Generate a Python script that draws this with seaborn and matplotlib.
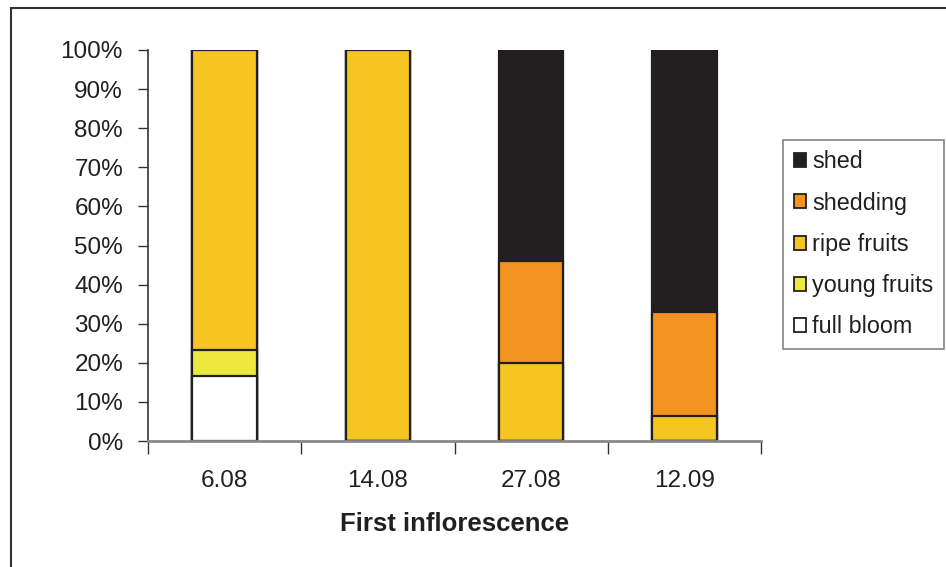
import numpy as np
import pandas as pd
import matplotlib
matplotlib.use("Agg")
import matplotlib.pyplot as plt
from matplotlib.patches import Rectangle, Patch
from matplotlib.ticker import PercentFormatter, FixedLocator
import seaborn as sns

# Sampling dates and share of each development stage (%)
dates = ["6.08", "14.08", "27.08", "12.09"]
full_bloom = [16.7, 0.0, 0.0, 0.0]
young_fruits = [6.6, 0.0, 0.0, 0.0]
ripe_fruits = [76.7, 100.0, 20.0, 6.5]
shedding = [0.0, 0.0, 26.0, 26.5]
shed = [0.0, 0.0, 54.0, 67.0]

stages = ["full bloom", "young fruits", "ripe fruits", "shedding", "shed"]
values = [full_bloom, young_fruits, ripe_fruits, shedding, shed]
colors = ["#FFFFFF", "#EDE840", "#F5C521", "#F39420", "#231F20"]

sns.set_theme(style="white")
plt.rcParams["font.family"] = ["Liberation Sans", "DejaVu Sans"]

fig = plt.figure(figsize=(9.46, 5.67), dpi=100)
ax = fig.add_axes([148 / 946, 1 - 441 / 567, (761 - 148) / 946, (441 - 50) / 567])

# stacked bars: draw cumulative totals from the top segment down
cum = np.cumsum(np.array(values), axis=0)
for i in range(len(stages) - 1, -1, -1):
    df = pd.DataFrame({"date": dates, "value": cum[i]})
    sns.barplot(data=df, x="date", y="value", color=colors[i], saturation=1,
                width=0.42, edgecolor="#231F20", linewidth=1.6, ax=ax, zorder=2)

ax.set_xlim(-0.5, 3.5)
ax.set_ylim(0, 100)
ax.yaxis.set_major_locator(FixedLocator(np.arange(0, 101, 10)))
ax.yaxis.set_major_formatter(PercentFormatter(decimals=0))
ax.xaxis.set_minor_locator(FixedLocator([-0.5, 0.5, 1.5, 2.5, 3.5]))

ax.tick_params(axis="y", which="major", direction="out", length=7, width=1,
               color="#333333", pad=11, labelsize=17.5, labelcolor="#231F20", left=True)
ax.tick_params(axis="x", which="major", length=0, pad=21, labelsize=17.5,
               labelcolor="#231F20")
ax.tick_params(axis="x", which="minor", direction="out", length=9, width=1,
               color="#333333", bottom=True)

for side in ["top", "right"]:
    ax.spines[side].set_visible(False)
ax.spines["left"].set_color("#333333")
ax.spines["left"].set_linewidth(1.2)
ax.spines["bottom"].set_color("#8A8A8A")
ax.spines["bottom"].set_linewidth(2)

ax.set_ylabel("")
ax.set_xlabel("First inflorescence", fontsize=18.5, fontweight="bold",
              color="#231F20", labelpad=14)

# legend, top stage first
handles = [Patch(facecolor=colors[i], edgecolor="#231F20", linewidth=1.3, label=stages[i])
           for i in range(len(stages) - 1, -1, -1)]
leg = fig.legend(handles=handles, loc="upper left",
                 bbox_to_anchor=(783 / 946, 1 - 140 / 567), frameon=True,
                 fancybox=False, fontsize=16.8, handlelength=0.55, handleheight=0.55,
                 handletextpad=0.25, labelspacing=0.78, borderpad=0.45,
                 borderaxespad=0)
leg.get_frame().set_edgecolor("#666666")
leg.get_frame().set_linewidth(1.2)
for t in leg.get_texts():
    t.set_color("#231F20")

# outer frame of the figure
fig.add_artist(Rectangle((11 / 946, -0.1), 1.2, 1 - 8 / 567 + 0.1,
                         transform=fig.transFigure, fill=False,
                         edgecolor="#333333", linewidth=1.5, clip_on=False))

fig.savefig("out.png", dpi=100)
